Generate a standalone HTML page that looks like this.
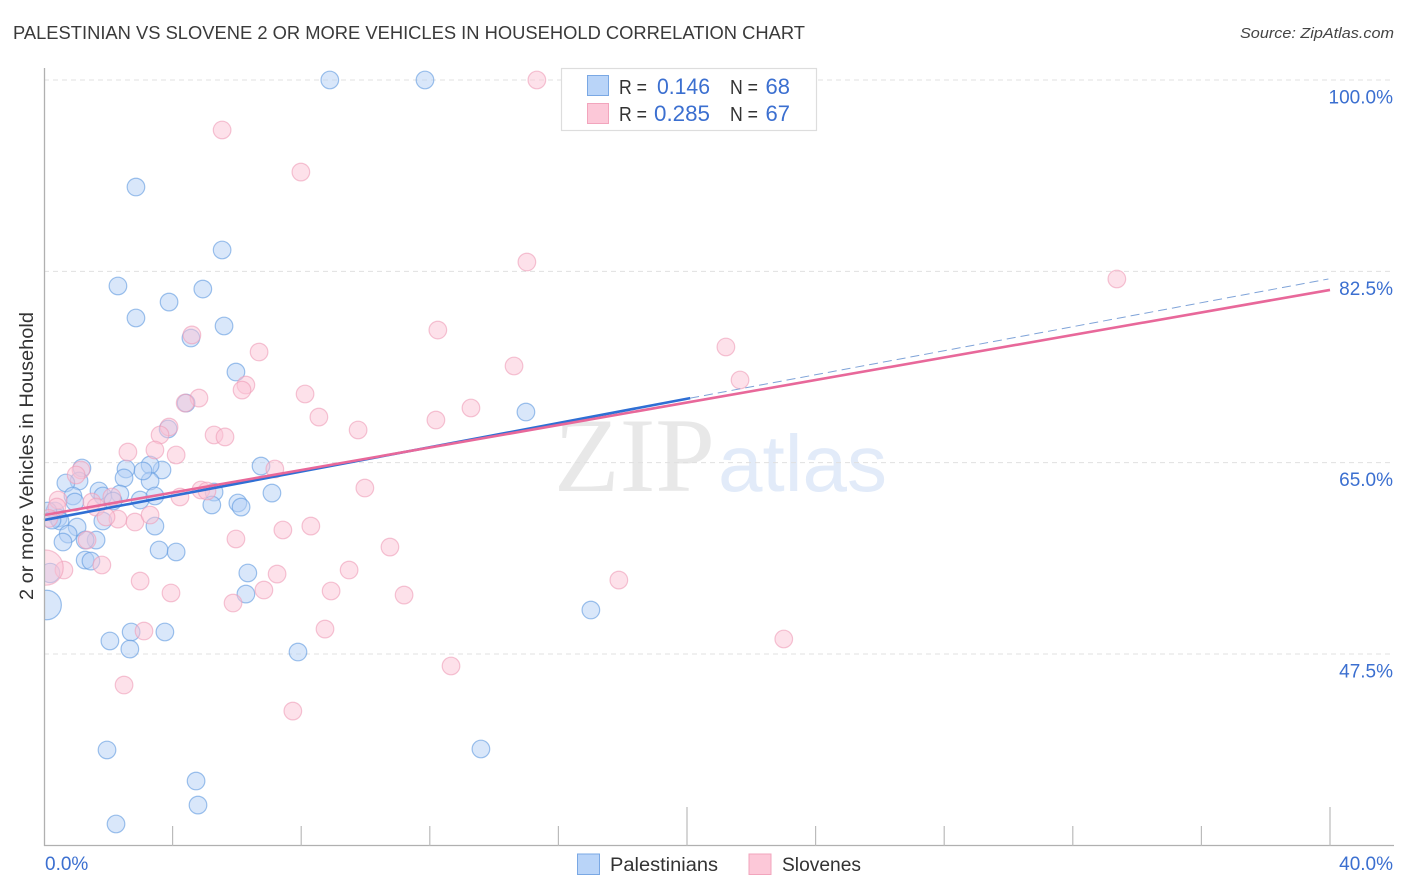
<!DOCTYPE html>
<html lang="en">
<head>
<meta charset="utf-8">
<title>Palestinian vs Slovene 2 or More Vehicles in Household Correlation Chart</title>
<style>
html,body{margin:0;padding:0;background:#fff;}
body{width:1406px;height:892px;overflow:hidden;}
svg{display:block;font-family:"Liberation Sans",sans-serif;}
</style>
</head>
<body>
<svg id="chart" xmlns="http://www.w3.org/2000/svg" width="1406" height="892" viewBox="0 0 1406 892">
  <rect x="0" y="0" width="1406" height="892" fill="#ffffff"/>
  <text x="13" y="39" font-size="18.5" fill="#3a3a3a" textLength="792" lengthAdjust="spacingAndGlyphs">PALESTINIAN VS SLOVENE 2 OR MORE VEHICLES IN HOUSEHOLD CORRELATION CHART</text>
  <text x="1394" y="38" font-size="15" font-style="italic" fill="#444444" text-anchor="end" textLength="154" lengthAdjust="spacingAndGlyphs">Source: ZipAtlas.com</text>
  <g>
    <text x="554" y="491" font-family="'Liberation Serif',serif" font-size="106" fill="#e8e8e8" textLength="161" lengthAdjust="spacingAndGlyphs">ZIP</text>
    <text x="718" y="491" font-size="80" fill="#e2ebf9" textLength="169" lengthAdjust="spacingAndGlyphs">atlas</text>
  </g>
  <g id="grid"></g>
  <g id="points"></g>
  <rect x="0" y="60" width="44" height="786" fill="#ffffff"/>
  <g id="lines"></g>
  <g id="axes"></g>
  <text transform="translate(33,456) rotate(-90)" font-size="19" fill="#333333" text-anchor="middle" textLength="288" lengthAdjust="spacingAndGlyphs">2 or more Vehicles in Household</text>

  <g>
    <rect x="561.5" y="68.5" width="255" height="62" fill="#ffffff" stroke="#dddddd" stroke-width="1.2"/>
    <rect x="587.5" y="75.5" width="21" height="20" fill="#b9d4f8" stroke="#7aa8e4" stroke-width="1"/>
    <rect x="587.5" y="103.5" width="21" height="20" fill="#fcc8d8" stroke="#f2a5bd" stroke-width="1"/>
    <text x="619" y="94" font-size="20" fill="#333333" textLength="28" lengthAdjust="spacingAndGlyphs">R =</text>
    <text x="657" y="94" font-size="22" fill="#3b6fd0" textLength="53" lengthAdjust="spacingAndGlyphs">0.146</text>
    <text x="730" y="94" font-size="20" fill="#333333" textLength="28" lengthAdjust="spacingAndGlyphs">N =</text>
    <text x="790" y="94" font-size="22" fill="#3b6fd0" text-anchor="end">68</text>
    <text x="619" y="121" font-size="20" fill="#333333" textLength="28" lengthAdjust="spacingAndGlyphs">R =</text>
    <text x="654" y="121" font-size="22" fill="#3b6fd0" textLength="56" lengthAdjust="spacingAndGlyphs">0.285</text>
    <text x="730" y="121" font-size="20" fill="#333333" textLength="28" lengthAdjust="spacingAndGlyphs">N =</text>
    <text x="790" y="121" font-size="22" fill="#3b6fd0" text-anchor="end">67</text>
  </g>

  <g>
    <rect x="577.5" y="854" width="22" height="20.5" fill="#b9d4f8" stroke="#7aa8e4" stroke-width="1"/>
    <text x="610" y="871" font-size="19" fill="#333333" textLength="108" lengthAdjust="spacingAndGlyphs">Palestinians</text>
    <rect x="749" y="854" width="22" height="20.5" fill="#fcc8d8" stroke="#f2a5bd" stroke-width="1"/>
    <text x="782" y="871" font-size="19" fill="#333333" textLength="79" lengthAdjust="spacingAndGlyphs">Slovenes</text>
  </g>
</svg>
<script>
// Chart data: [x %, y %, optional size multiplier]
const palestinians = [
  [8.89,100],[11.85,100],[2.86,90.21],[5.54,84.45],[2.30,81.16],[4.94,80.88],[3.89,79.69],[2.86,78.23],
  [5.60,77.50],[4.57,76.40],[5.97,73.29],[4.42,70.45],[14.99,69.63],[3.86,68.08],[1.18,64.51],[2.55,64.42],
  [3.67,64.33],[3.30,64.78],[6.75,64.69],[1.09,63.32],[0.68,63.14],[2.49,63.60],[3.30,63.32],[3.08,64.24],
  [1.71,62.41],[0.90,61.95],[0.96,61.40],[1.83,61.95],[2.36,62.13],[2.15,61.49],[2.99,61.58],[3.45,61.95],
  [7.09,62.22],[5.29,62.31],[5.22,61.13],[6.03,61.31],[6.13,60.94],[0.34,60.58],[0.44,59.94],[0.50,59.66],
  [1.83,59.66],[3.45,59.20],[1.03,59.11],[0.75,58.47],[0.59,57.74],[1.62,57.92],[1.28,57.92],[3.58,57.01],
  [4.11,56.83],[1.28,56.09],[1.46,56.00],[6.34,54.91],[0.19,54.91,1.1],[6.28,52.98],[0.08,51.98,1.68],[17.01,51.52],
  [2.71,49.51],[3.76,49.51],[2.05,48.69],[2.67,47.95],[7.90,47.68],[1.96,38.72],[13.59,38.81],[4.73,35.88],
  [4.79,33.68],[2.24,31.95],[0.12,60.58],[0.25,59.75]
];
const slovenes = [
  [15.33,100],[5.54,95.43],[7.99,91.58],[15.02,83.35],[33.37,81.80],[4.60,76.68],[12.25,77.13],[6.69,75.12],
  [21.21,75.58],[14.62,73.84],[21.65,72.56],[6.28,72.10],[6.16,71.64],[8.12,71.28],[4.82,70.91],[4.39,70.45],
  [13.28,70.00],[8.55,69.17],[12.19,68.90],[9.77,67.99],[3.89,68.26],[3.61,67.53],[5.29,67.53],[5.63,67.35],
  [3.45,66.16],[2.61,65.97],[4.11,65.70],[1.15,64.33],[1.00,63.87],[7.18,64.42],[9.98,62.68],[4.23,61.86],
  [4.88,62.50],[5.07,62.41],[0.44,61.58],[1.49,61.40],[2.11,61.86],[1.62,60.94],[0.40,60.94],[2.30,59.84],
  [2.83,59.57],[3.30,60.21],[1.93,60.03],[7.43,58.84],[8.30,59.20],[5.97,58.02],[1.34,57.92],[10.76,57.28],
  [1.80,55.64],[0.62,55.18],[9.49,55.18],[0.05,55.40,2.0],[7.25,54.81],[2.99,54.17],[17.88,54.26],[3.95,53.08],
  [6.84,53.35],[8.93,53.26],[11.20,52.89],[5.88,52.16],[3.11,49.60],[8.74,49.78],[23.01,48.87],[12.66,46.40],
  [2.49,44.66],[7.74,42.28],[0.15,59.90]
];
const palestiniansSolidTrend = [[0,59.75],[20.1,70.9]];
const palestiniansDashedTrend = [[20.1,70.9],[39.95,81.8]];
const slovenesTrend = [[0,60.2],[40,80.8]];
const yTickValues = [100,82.5,65,47.5];
const yTickLabels = ["100.0%","82.5%","65.0%","47.5%"];
const xTickValues = [0,4,8,12,16,20,24,28,32,36,40];
const xMajorTicks = [20,40];
const xEdgeLabels = [[0,"0.0%"],[40,"40.0%"]];

const NS = "http://www.w3.org/2000/svg";
const xScale = v => 44 + v * 32.15;
const yScale = v => 80 + (100 - v) * 10.933;
function make(tag, parentId, attrs){
  const el = document.createElementNS(NS, tag);
  for (const k in attrs) el.setAttribute(k, attrs[k]);
  document.getElementById(parentId).appendChild(el);
  return el;
}

yTickValues.forEach((v, i) => {
  const line = make("line", "grid", {x1:44, x2:1394, y1:yScale(v), y2:yScale(v), stroke:"#e0e0e0", "stroke-width":1, "stroke-dasharray":"5 4"});
  
  
  const label = make("text", "axes", {x:1393, y:yScale(v) + 23.5, "font-size":19, fill:"#3b6fd0", "text-anchor":"end"});
  label.textContent = yTickLabels[i];
  
  
});

function drawSeries(points, fill, stroke){
  points.forEach(p => {
    const c = make("circle", "points", {cx:xScale(p[0]), cy:yScale(p[1]), r:8.8 * (p[2] || 1), fill:fill, "fill-opacity":0.5, stroke:stroke, "stroke-opacity":0.6, "stroke-width":1.2});
    
    
  });
}
drawSeries(palestinians, "#b3cff6", "#5f99e0");
drawSeries(slovenes, "#fbc4d5", "#ef9db8");

function drawTrend(seg, stroke, width, dash){
  const l = make("line", "lines", {x1:xScale(seg[0][0]), y1:yScale(seg[0][1]), x2:xScale(seg[1][0]), y2:yScale(seg[1][1]), stroke:stroke, "stroke-width":width, "stroke-linecap":"butt"});
  if (dash) l.setAttribute("stroke-dasharray", dash);
  
  
}
drawTrend(palestiniansDashedTrend, "#7fa3d8", 1, "9 5");
drawTrend(palestiniansSolidTrend, "#2f6fd4", 2.6);
drawTrend(slovenesTrend, "#e8689a", 2.6);

const yAxis = make("line", "axes", {x1:44.5, x2:44.5, y1:68, y2:846, stroke:"#b0b0b0", "stroke-width":1.3});


const xAxis = make("line", "axes", {x1:44, x2:1394, y1:845.5, y2:845.5, stroke:"#b0b0b0", "stroke-width":1.3});



xTickValues.forEach(v => {
  if (v === 0) return;
  const top = xMajorTicks.includes(v) ? 807 : 826;
  const t = make("line", "axes", {x1:xScale(v), x2:xScale(v), y1:top, y2:846, stroke:"#bbbbbb", "stroke-width":1.2});
  
  
});

xEdgeLabels.forEach(e => {
  const isStart = e[0] === 0;
  const t = make("text", "axes", {x:isStart ? 45 : 1393, y:870, "font-size":19, fill:"#3b6fd0", "text-anchor":isStart ? "start" : "end"});
  t.textContent = e[1];
  
  
});
</script>
</body>
</html>
